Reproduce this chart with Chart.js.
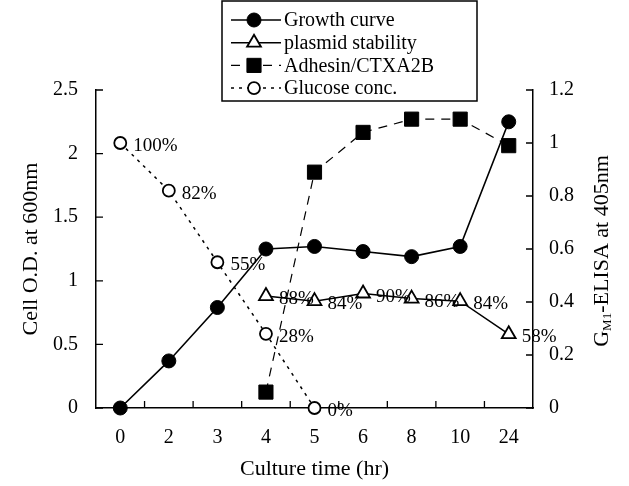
<!DOCTYPE html>
<html>
<head>
<meta charset="utf-8">
<script src="https://cdn.jsdelivr.net/npm/chart.js@4.4.0/dist/chart.umd.min.js"></script>
<style>
  html, body { margin: 0; padding: 0; background: #fff; }
</style>
</head>
<body>
<canvas id="chart" width="629" height="486"></canvas>
<script>
// DATA
const hours = ["0", "2", "3", "4", "5", "6", "8", "10", "24"];
const growth = [0, 0.37, 0.79, 1.25, 1.27, 1.23, 1.19, 1.27, 2.25];      // O.D. 600nm (left)
const plasmid = [null, null, null, 0.88, 0.84, 0.90, 0.86, 0.84, 0.58];  // fraction retained (left)
const adhesin = [null, null, null, 0.06, 0.89, 1.04, 1.09, 1.09, 0.99];  // GM1-ELISA (right)
const glucose = [1.0, 0.82, 0.55, 0.28, 0, null, null, null, null];      // fraction left (right)
const leftTicks = [0, 0.5, 1, 1.5, 2, 2.5];
const rightTicks = [0, 0.2, 0.4, 0.6, 0.8, 1, 1.2];

const SERIF = "'Liberation Serif', 'DejaVu Serif', serif";
const pct = v => Math.round(v * 100) + "%";
const plain = v => String(Math.round(v * 10) / 10);

// inward tick marks on all three axes
const inwardTicks = {
    id: "inwardTicks",
    beforeDatasetsDraw(chart) {
        const { ctx, chartArea: a, scales } = chart;
        ctx.save();
        ctx.strokeStyle = "#000";
        ctx.lineWidth = 1.3;
        ctx.beginPath();
        scales.y.ticks.forEach(t => {
            const p = scales.y.getPixelForValue(t.value);
            ctx.moveTo(a.left, p);
            ctx.lineTo(a.left + 7, p);
        });
        scales.y1.ticks.forEach(t => {
            const p = scales.y1.getPixelForValue(t.value);
            ctx.moveTo(a.right - 7, p);
            ctx.lineTo(a.right, p);
        });
        for (let i = 0; i < hours.length - 1; i++) {
            const p = (scales.x.getPixelForValue(i) + scales.x.getPixelForValue(i + 1)) / 2;
            ctx.moveTo(p, a.bottom);
            ctx.lineTo(p, a.bottom - 7);
        }
        ctx.stroke();
        ctx.restore();
    }
};

// percent labels, legend box, right axis title with subscript
const extras = {
    id: "extras",
    afterDraw(chart) {
        const ctx = chart.ctx;
        ctx.save();
        ctx.fillStyle = "#000";
        ctx.font = "19px " + SERIF;
        ctx.textAlign = "left";
        ctx.textBaseline = "middle";
        [1, 3].forEach(di => {
            const meta = chart.getDatasetMeta(di);
            chart.data.datasets[di].data.forEach((v, j) => {
                if (v === null) return;
                const pt = meta.data[j];
                ctx.fillText(pct(v), pt.x + 13, pt.y + 3);
            });
        });

        // legend
        ctx.strokeStyle = "#000";
        ctx.lineWidth = 1.5;
        ctx.fillStyle = "#fff";
        ctx.fillRect(222, 1, 255, 100);
        ctx.strokeRect(222, 1, 255, 100);
        chart.data.datasets.forEach((ds, i) => {
            const y = 20 + i * 22.7;
            ctx.save();
            ctx.strokeStyle = "#000";
            ctx.lineWidth = ds.borderWidth;
            ctx.setLineDash(ds.borderDash || []);
            ctx.beginPath();
            ctx.moveTo(231, y);
            ctx.lineTo(281, y);
            ctx.stroke();
            ctx.setLineDash([]);
            ctx.fillStyle = ds.pointBackgroundColor;
            ctx.lineWidth = ds.pointBorderWidth;
            Chart.helpers.drawPoint(ctx, {
                pointStyle: ds.pointStyle,
                radius: ds.pointRadius,
                rotation: 0,
                borderWidth: ds.pointBorderWidth
            }, 254, y);
            ctx.restore();
            ctx.fillStyle = "#000";
            ctx.font = "20px " + SERIF;
            ctx.fillText(ds.label, 284, y + 1);
        });

        // right axis title "G(M1)-ELISA at 405nm"
        const a = chart.chartArea;
        const big = "22px " + SERIF, small = "13px " + SERIF;
        ctx.font = big;
        const wG = ctx.measureText("G").width;
        const wRest = ctx.measureText("-ELISA at 405nm").width;
        ctx.font = small;
        const wSub = ctx.measureText("M1").width;
        const total = wG + wSub + wRest;
        ctx.translate(602, (a.top + a.bottom) / 2 + 2);
        ctx.rotate(-Math.PI / 2);
        ctx.textBaseline = "middle";
        let x = -total / 2;
        ctx.font = big;
        ctx.fillText("G", x, 0);
        x += wG;
        ctx.font = small;
        ctx.fillText("M1", x, 6);
        x += wSub;
        ctx.font = big;
        ctx.fillText("-ELISA at 405nm", x, 0);
        ctx.restore();
    }
};

const ctx = document.getElementById("chart").getContext("2d");

const data = {
    labels: hours,
    datasets: [
        {
            label: "Growth curve",
            data: growth,
            yAxisID: "y",
            borderColor: "#000",
            borderWidth: 1.6,
            pointStyle: "circle",
            pointRadius: 7,
            pointBackgroundColor: "#000",
            pointBorderColor: "#000",
            pointBorderWidth: 1,
            clip: false,
        },
        {
            label: "plasmid stability",
            data: plasmid,
            yAxisID: "y",
            borderColor: "#000",
            borderWidth: 1.5,
            pointStyle: "triangle",
            pointRadius: 8,
            pointBackgroundColor: "#fff",
            pointBorderColor: "#000",
            pointBorderWidth: 1.8,
            clip: false,
        },
        {
            label: "Adhesin/CTXA2B",
            data: adhesin,
            yAxisID: "y1",
            borderColor: "#000",
            borderWidth: 1.2,
            borderDash: [9, 7],
            pointStyle: "rect",
            pointRadius: 10,
            pointBackgroundColor: "#000",
            pointBorderColor: "#000",
            pointBorderWidth: 1,
            clip: false,
        },
        {
            label: "Glucose conc.",
            data: glucose,
            yAxisID: "y1",
            borderColor: "#000",
            borderWidth: 1.5,
            borderDash: [3, 5],
            pointStyle: "circle",
            pointRadius: 6,
            pointBackgroundColor: "#fff",
            pointBorderColor: "#000",
            pointBorderWidth: 1.8,
            clip: false,
        },
    ],
};

const tickFont = { family: SERIF, size: 20 };
const titleFont = { family: SERIF, size: 22 };

const config = {
    type: "line",
    data: data,
    options: {
        responsive: false,
        animation: false,
        devicePixelRatio: 1,
        layout: { padding: { top: 90, left: 0, right: 0, bottom: 0 } },
        plugins: {
            legend: { display: false },
            tooltip: { enabled: false },
        },
        scales: {
            x: {
                type: "category",
                offset: true,
                grid: { display: false },
                border: { display: true, color: "#000", width: 1.5 },
                ticks: { color: "#000", font: tickFont, padding: 10, maxRotation: 0, autoSkip: false },
                title: { display: true, text: "Culture time (hr)", color: "#000", font: titleFont, padding: { top: 0, bottom: 4 } },
                afterFit: s => { s.height = 78; },
            },
            y: {
                position: "left",
                min: 0,
                max: 2.5,
                afterBuildTicks: s => { s.ticks = leftTicks.map(v => ({ value: v })); },
                grid: { display: false },
                border: { display: true, color: "#000", width: 1.5 },
                ticks: { color: "#000", font: tickFont, padding: 10, callback: plain },
                title: { display: true, text: "Cell O.D. at 600nm", color: "#000", font: titleFont, padding: { top: 18, bottom: 0 } },
                afterFit: s => { s.width = 96; },
            },
            y1: {
                position: "right",
                min: 0,
                max: 1.2,
                afterBuildTicks: s => { s.ticks = rightTicks.map(v => ({ value: v })); },
                grid: { display: false },
                border: { display: true, color: "#000", width: 1.5 },
                ticks: { color: "#000", font: tickFont, padding: 8, callback: plain },
                afterFit: s => { s.width = 96; },
            },
        },
    },
    plugins: [inwardTicks, extras],
};

const myChart = new Chart(ctx, config);
</script>
</body>
</html>
